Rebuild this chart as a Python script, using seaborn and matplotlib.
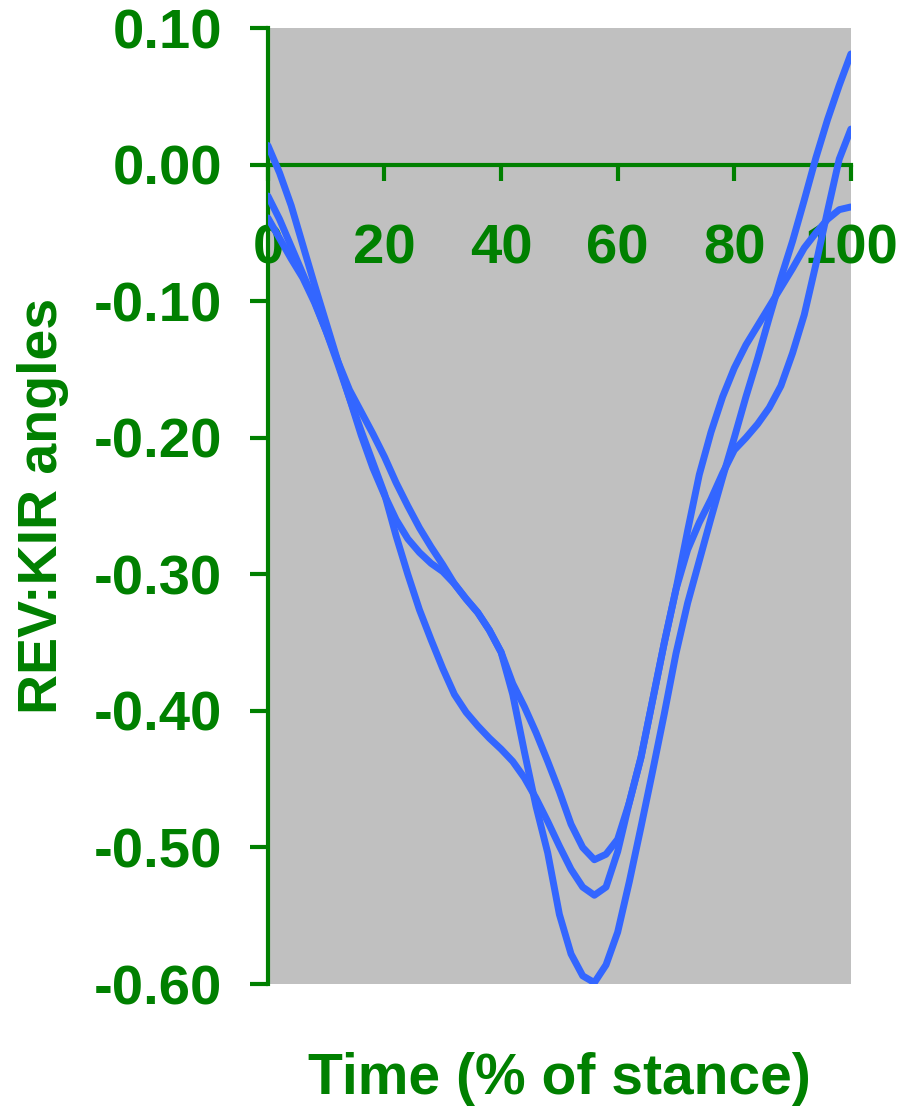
"""
REV:KIR angle curves over stance, three trials.
"""

import numpy as np
import pandas as pd
import matplotlib
matplotlib.use('Agg')
import matplotlib.pyplot as plt
import seaborn as sns

# time axis (% of stance), sampled every 2%
time_pct = np.arange(0, 101, 2)

trial_1 = [0.014, -0.006, -0.030, -0.059, -0.088, -0.116, -0.144, -0.171, -0.198, -0.222,
           -0.242, -0.260, -0.274, -0.284, -0.292, -0.298, -0.307, -0.318, -0.328, -0.341,
           -0.357, -0.388, -0.430, -0.470, -0.504, -0.549, -0.578, -0.594, -0.599, -0.586,
           -0.562, -0.525, -0.485, -0.444, -0.402, -0.358, -0.321, -0.290, -0.259, -0.229,
           -0.200, -0.170, -0.142, -0.112, -0.083, -0.056, -0.026, 0.005, 0.033, 0.058,
           0.081]

trial_2 = [-0.023, -0.040, -0.060, -0.080, -0.100, -0.122, -0.144, -0.165, -0.181, -0.197,
           -0.214, -0.233, -0.250, -0.266, -0.280, -0.293, -0.307, -0.318, -0.328, -0.341,
           -0.357, -0.380, -0.397, -0.416, -0.437, -0.459, -0.483, -0.500, -0.509, -0.505,
           -0.494, -0.467, -0.434, -0.392, -0.350, -0.311, -0.268, -0.227, -0.196, -0.170,
           -0.149, -0.132, -0.118, -0.104, -0.090, -0.076, -0.061, -0.050, -0.040, -0.033,
           -0.031]

trial_3 = [-0.039, -0.054, -0.069, -0.083, -0.101, -0.122, -0.146, -0.171, -0.195, -0.218,
           -0.241, -0.272, -0.300, -0.326, -0.348, -0.369, -0.388, -0.401, -0.411, -0.420,
           -0.428, -0.437, -0.449, -0.464, -0.481, -0.499, -0.516, -0.529, -0.535, -0.529,
           -0.503, -0.467, -0.434, -0.392, -0.350, -0.311, -0.282, -0.262, -0.245, -0.226,
           -0.209, -0.200, -0.190, -0.178, -0.162, -0.138, -0.110, -0.073, -0.034, 0.004,
           0.026]

x_ticks = [0, 20, 40, 60, 80, 100]
y_ticks = [-0.6, -0.5, -0.4, -0.3, -0.2, -0.1, 0.0, 0.1]
y_tick_labels = ['-0.60', '-0.50', '-0.40', '-0.30', '-0.20', '-0.10', '0.00', '0.10']

GREEN = '#008000'
BLUE = '#3366FF'

df = pd.concat([
    pd.DataFrame({'time': time_pct, 'angle': vals, 'trial': name})
    for name, vals in [('1', trial_1), ('2', trial_2), ('3', trial_3)]
])

sns.set_style('white')
plt.rcParams['font.family'] = ['Liberation Sans', 'DejaVu Sans']
plt.rcParams['font.weight'] = 'bold'

fig = plt.figure(figsize=(9.05, 11.08), dpi=100)
ax = fig.add_axes([0.296, 0.1119, 0.6442, 0.8628])
ax.set_facecolor('#C0C0C0')

sns.lineplot(data=df, x='time', y='angle', hue='trial', estimator=None,
             palette=[BLUE] * 3, linewidth=5, legend=False, ax=ax, zorder=3)

ax.set_xlim(0, 100)
ax.set_ylim(-0.6, 0.1)

for side in ['top', 'right']:
    ax.spines[side].set_visible(False)
ax.spines['bottom'].set_position(('data', 0))
for side in ['left', 'bottom']:
    ax.spines[side].set_color(GREEN)
    ax.spines[side].set_linewidth(3)

ax.set_xticks(x_ticks)
ax.set_xticklabels([str(t) for t in x_ticks])
ax.set_yticks(y_ticks)
ax.set_yticklabels(y_tick_labels)

# seaborn's white style hides the tick marks, turn them back on
ax.tick_params(axis='x', bottom=True, direction='out', length=11.5, width=3, color=GREEN,
               labelcolor=GREEN, labelsize=40.5, pad=31)
ax.tick_params(axis='y', left=True, direction='out', length=13, width=3, color=GREEN,
               labelcolor=GREEN, labelsize=40.5, pad=20)
for lbl in ax.get_xticklabels() + ax.get_yticklabels():
    lbl.set_fontweight('bold')

ax.set_xlabel('Time (% of stance)', fontsize=41, fontweight='bold', color=GREEN)
ax.set_ylabel('REV:KIR angles', fontsize=40, fontweight='bold', color=GREEN)
ax.xaxis.set_label_coords(0.5, -0.071)
ax.yaxis.set_label_coords(-0.341, 0.5)

plt.savefig('out.png', dpi=100)
plt.close()
